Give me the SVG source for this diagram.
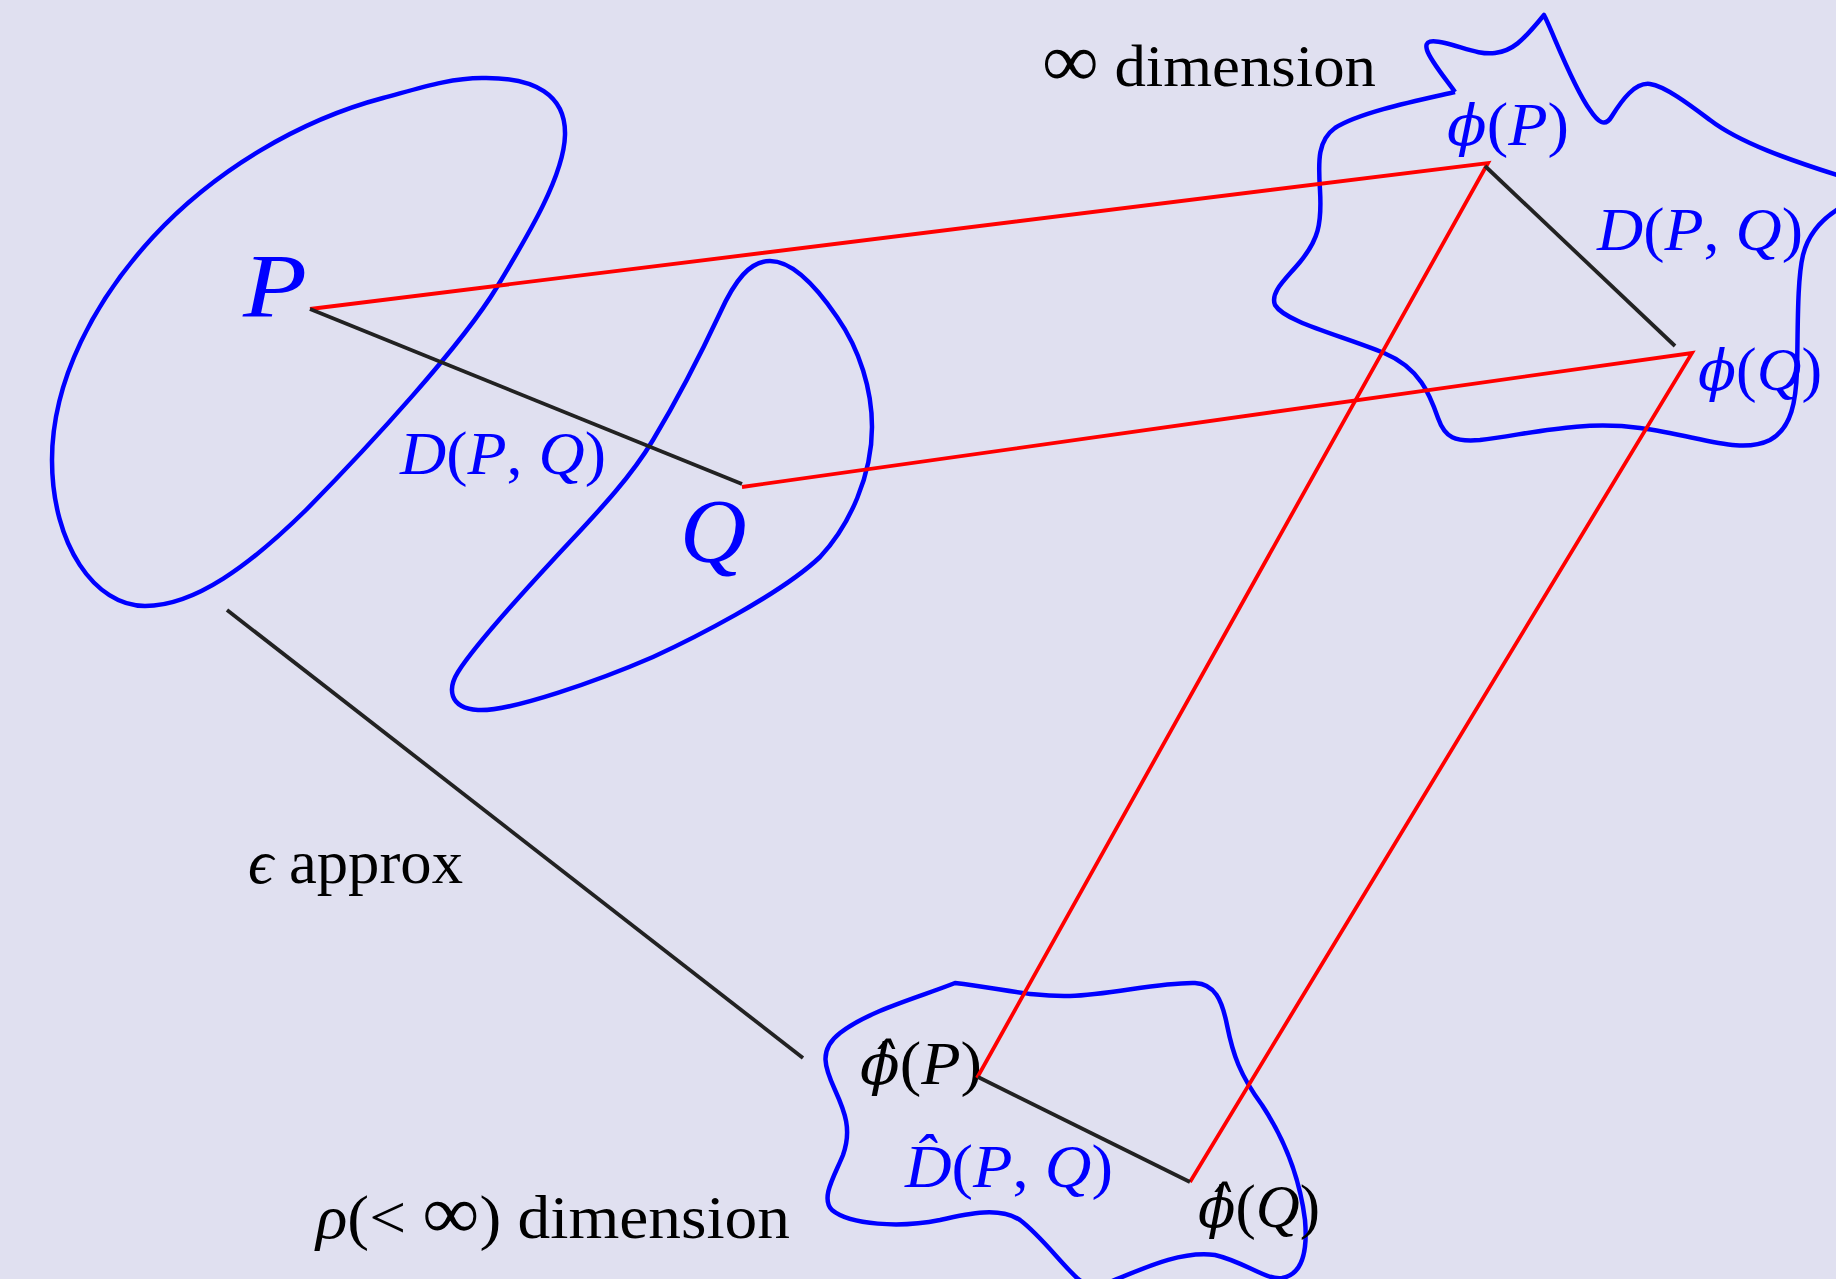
<svg xmlns="http://www.w3.org/2000/svg" width="1836" height="1279" viewBox="0 0 1836 1279">
<style>
.blob{fill:none;stroke:#0000ff;stroke-width:4.5;stroke-linejoin:round}
.red{fill:none;stroke:#ff0000;stroke-width:3.8;stroke-linejoin:miter}
.blk{fill:none;stroke:#222222;stroke-width:3.8}
text{font-family:"Liberation Serif","DejaVu Serif",serif}
.i{font-style:italic}
.g{font-family:"DejaVu Serif",serif;font-style:italic;font-size:56px}
.b{fill:#0000ff}
.k{fill:#000000}
</style>
<rect x="0" y="0" width="1836" height="1279" fill="#e0e0f0"/>

<g id="node-P-space">
<path class="blob" d="M 482 78 C 535 77, 566 95, 565 135 C 564 175, 530 232, 497 287 C 462 345, 370 445, 306 510 C 250 565, 195 606, 145 606 C 95 606, 52 545, 52 460 C 52 380, 95 300, 153 237 C 215 170, 300 120, 383 98 C 420 88, 450 78, 482 78 Z"/>
<text class="i b" x="243" y="317" font-size="92" textLength="64" lengthAdjust="spacingAndGlyphs">P</text>
</g>

<g id="node-Q-space">
<path class="blob" d="M 770 261 C 750 261, 735 280, 720 313 C 705 345, 680 395, 653 440 C 628 482, 590 520, 553 560 C 516 600, 475 645, 458 672 C 448 688, 448 708, 478 710 C 510 712, 600 680, 653 657 C 690 640, 780 595, 820 557 C 850 525, 872 475, 872 427 C 872 390, 860 350, 837 317 C 820 292, 795 261, 770 261 Z"/>
<text class="i b" x="680" y="562" font-size="92">Q</text>
</g>

<g id="node-infinite-space">
<path class="blob" d="M 1455 92 C 1445 78, 1430 60, 1427 50 C 1424 40, 1432 40, 1445 43 C 1465 48, 1480 55, 1495 53 C 1512 51, 1522 42, 1544 15 C 1552 30, 1572 85, 1590 110 C 1598 122, 1605 128, 1612 116 C 1622 100, 1635 82, 1650 84 C 1665 86, 1690 105, 1710 120 C 1740 143, 1790 160, 1840 176"/>
<path class="blob" d="M 1455 92 C 1420 100, 1360 112, 1335 128 C 1318 140, 1318 160, 1320 190 C 1322 225, 1318 240, 1300 262 C 1285 280, 1270 292, 1275 305 C 1285 322, 1340 335, 1384 353 C 1420 368, 1430 395, 1438 418 C 1445 438, 1455 442, 1480 440 C 1530 434, 1580 420, 1640 428 C 1700 436, 1740 455, 1770 440 C 1792 428, 1796 400, 1797 370 C 1798 330, 1797 280, 1803 255 C 1808 235, 1820 220, 1840 208"/>
<text class="k" x="1042" y="86" font-size="60" textLength="334" lengthAdjust="spacingAndGlyphs"><tspan font-size="76">∞</tspan> dimension</text>
<text class="b" x="1447" y="145" font-size="62" textLength="122" lengthAdjust="spacingAndGlyphs"><tspan class="g">ϕ</tspan>(<tspan class="i">P</tspan>)</text>
<text class="b" x="1698" y="390" font-size="62" textLength="124" lengthAdjust="spacingAndGlyphs"><tspan class="g">ϕ</tspan>(<tspan class="i">Q</tspan>)</text>
<text class="b" x="1597" y="250" font-size="62" textLength="206" lengthAdjust="spacingAndGlyphs"><tspan class="i">D</tspan>(<tspan class="i">P</tspan>,<tspan class="i"> Q</tspan>)</text>
</g>

<g id="node-rho-space">
<path class="blob" d="M 955 983 C 1000 988, 1030 997, 1070 996 C 1110 995, 1160 982, 1195 983 C 1215 984, 1222 1000, 1227 1025 C 1233 1055, 1240 1075, 1262 1105 C 1285 1140, 1300 1180, 1305 1220 C 1308 1255, 1300 1275, 1282 1278 C 1265 1280, 1245 1262, 1215 1255 C 1180 1250, 1140 1270, 1105 1284 C 1095 1288, 1085 1285, 1077 1278 C 1060 1262, 1040 1235, 1020 1220 C 1000 1207, 970 1213, 940 1220 C 900 1228, 850 1225, 832 1210 C 820 1198, 835 1175, 843 1155 C 852 1130, 845 1112, 835 1090 C 825 1068, 818 1050, 840 1033 C 870 1010, 920 997, 955 983 Z"/>
<text class="k" x="316" y="1238" font-size="62" textLength="474" lengthAdjust="spacingAndGlyphs"><tspan class="i">ρ</tspan>(&lt; <tspan font-size="76">∞</tspan>) dimension</text>
<text class="k" x="860" y="1084" font-size="62" textLength="122" lengthAdjust="spacingAndGlyphs"><tspan class="g">ϕ̂</tspan>(<tspan class="i">P</tspan>)</text>
<text class="k" x="1198" y="1227" font-size="62" textLength="122" lengthAdjust="spacingAndGlyphs"><tspan class="g">ϕ̂</tspan>(<tspan class="i">Q</tspan>)</text>
<text class="b" x="905" y="1187" font-size="62" textLength="208" lengthAdjust="spacingAndGlyphs"><tspan class="i">D̂</tspan>(<tspan class="i">P</tspan>,<tspan class="i"> Q</tspan>)</text>
</g>

<g id="connectors">
<polyline class="red" points="310,309 1488,163 977,1078"/>
<polyline class="red" points="742,487 1692,353 1190,1182"/>
<line class="blk" x1="310" y1="309" x2="742" y2="484"/>
<line class="blk" x1="1485" y1="166" x2="1675" y2="346"/>
<line class="blk" x1="978" y1="1077" x2="1190" y2="1182"/>
<line class="blk" x1="227" y1="610" x2="803" y2="1058"/>
</g>

<g id="labels">
<text class="b" x="400" y="474" font-size="62" textLength="206" lengthAdjust="spacingAndGlyphs"><tspan class="i">D</tspan>(<tspan class="i">P</tspan>,<tspan class="i"> Q</tspan>)</text>
<text class="k" x="248" y="883" font-size="62" textLength="215" lengthAdjust="spacingAndGlyphs"><tspan class="i">ϵ</tspan> approx</text>
</g>
</svg>
